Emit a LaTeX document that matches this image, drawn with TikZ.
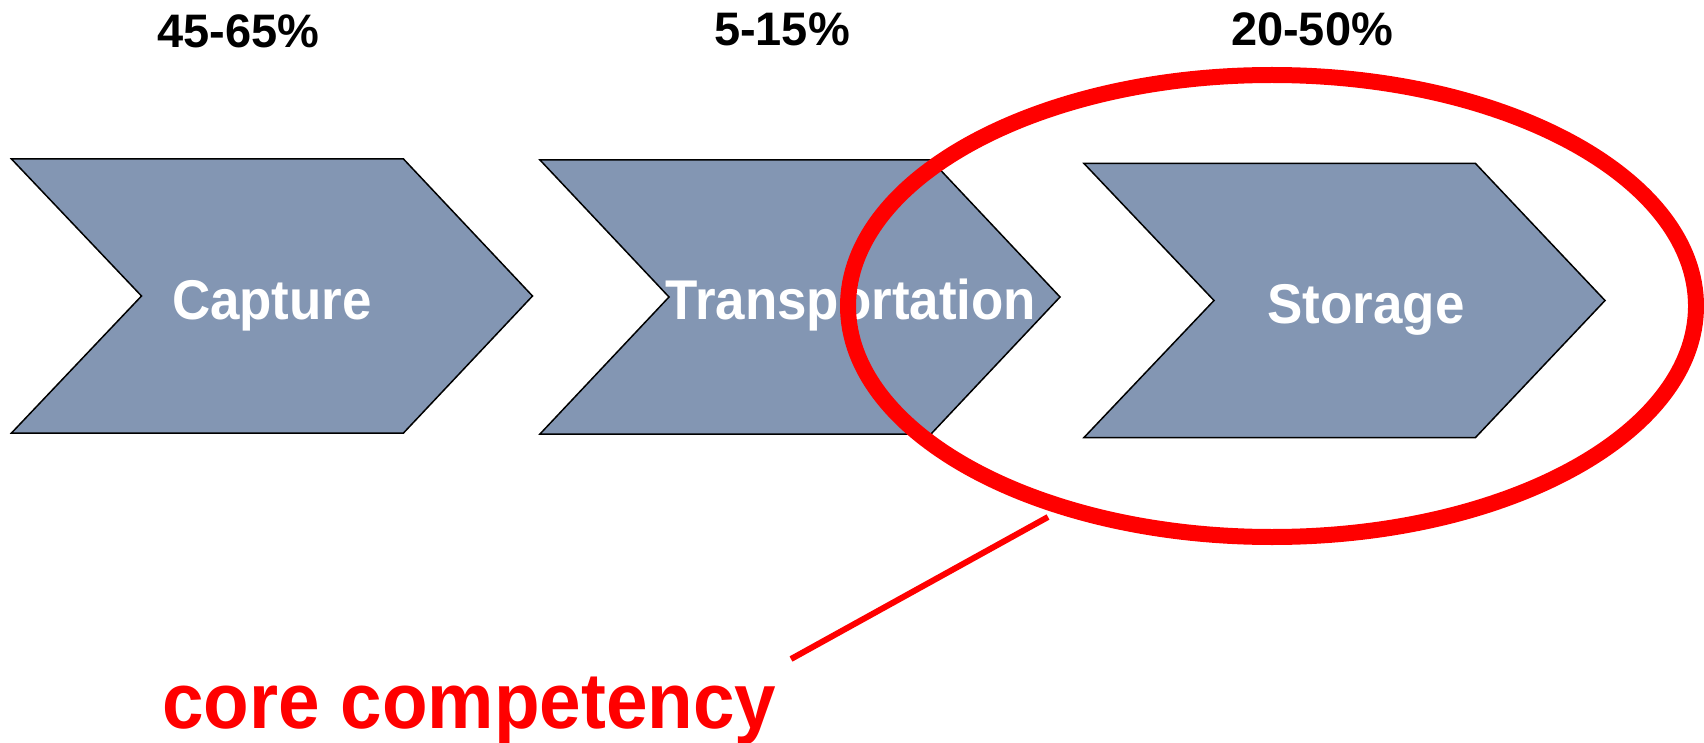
\documentclass[tikz,border=0pt]{standalone}
\usepackage{fontspec}
\setmainfont{Liberation Sans}

\definecolor{chevblue}{RGB}{131,150,179}
\tikzset{
  chev/.style={draw=black, line width=1.5pt, fill=chevblue, line join=miter},
  lbl/.style={text=white, font=\bfseries\fontsize{56}{60}\selectfont, inner sep=0pt, anchor=base},
  pct/.style={font=\bfseries\fontsize{47}{52}\selectfont, inner sep=0pt, anchor=base},
}
\newcommand{\squeeze}[1]{\scalebox{0.945}[1]{#1}}

\begin{document}
\begin{tikzpicture}[x=1pt, y=-1pt]
    \useasboundingbox (0,0) rectangle (1704,743);

    \draw[chev] (11.5,159) -- (403.5,159) -- (532.5,296) -- (403.5,433) -- (11.5,433) -- (141.5,296) -- cycle;
    \draw[chev] (540,160) -- (931,160) -- (1060,297) -- (931,434) -- (540,434) -- (669,297) -- cycle;
    \draw[chev] (1084,163.5) -- (1475.5,163.5) -- (1605,300.5) -- (1475.5,437.5) -- (1084,437.5) -- (1214,300.5) -- cycle;

    \node[lbl] (cap) at (272,319) {\squeeze{Capture}};
    \node[lbl] (trans) at (851,319) {\squeeze{Transportation}};
    \node[lbl] (stor) at (1366,323) {\squeeze{Storage}};

    \node[pct] (p1) at (238.5,48) {45-65\%};
    \node[pct] (p2) at (782,46) {5-15\%};
    \node[pct] (p3) at (1312,46) {20-50\%};

    % ring round the storage step
    \draw[red, line width=16pt] (1272,306) ellipse (424 and 231);

    \node[text=red, font=\bfseries\fontsize{79}{84}\selectfont, inner sep=0pt, anchor=base west] (core) at (162,728) {\squeeze{core competency}};
    \coordinate (c1) at (791,659);
    \coordinate (c2) at (1048,517);
    \draw[red, line width=6pt] (c1) -- (c2);
\end{tikzpicture}
\end{document}
